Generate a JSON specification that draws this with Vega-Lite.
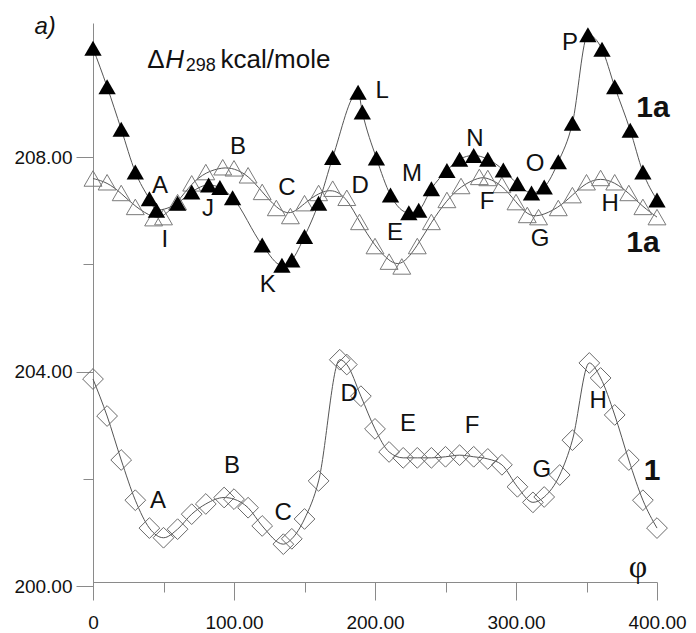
{
  "$schema": "https://vega.github.io/schema/vega-lite/v6.json",
  "autosize": {"type": "none"},
  "padding": {"left": 93, "top": 23, "right": 39, "bottom": 47},
  "width": 564,
  "height": 563,
  "background": "white",
  "config": {
    "view": {"stroke": null},
    "axis": {
      "domainColor": "#8a8a8a",
      "tickColor": "#8a8a8a",
      "labelColor": "#111",
      "labelFont": "Liberation Sans",
      "labelFontSize": 19,
      "grid": false,
      "title": null
    }
  },
  "datasets": {
    "filled": [
      {"x": 0, "y": 210.03}, {"x": 10, "y": 209.31}, {"x": 20, "y": 208.52}, {"x": 30, "y": 207.72},
      {"x": 40, "y": 207.22}, {"x": 45, "y": 207.01}, {"x": 60, "y": 207.14}, {"x": 70, "y": 207.35},
      {"x": 82, "y": 207.48}, {"x": 90, "y": 207.43}, {"x": 99, "y": 207.24}, {"x": 120, "y": 206.36},
      {"x": 134, "y": 205.98}, {"x": 141, "y": 206.08}, {"x": 150, "y": 206.52}, {"x": 160, "y": 207.14},
      {"x": 170, "y": 207.99}, {"x": 188, "y": 209.21}, {"x": 191, "y": 208.84}, {"x": 201, "y": 207.98},
      {"x": 211, "y": 207.29}, {"x": 224, "y": 206.96}, {"x": 231, "y": 207.01}, {"x": 240, "y": 207.41},
      {"x": 251, "y": 207.75}, {"x": 260, "y": 207.96}, {"x": 270, "y": 208.03}, {"x": 280, "y": 207.96},
      {"x": 291, "y": 207.76}, {"x": 301, "y": 207.5}, {"x": 311, "y": 207.33}, {"x": 320, "y": 207.44},
      {"x": 330, "y": 207.91}, {"x": 340, "y": 208.63}, {"x": 351, "y": 210.28}, {"x": 361, "y": 210.01},
      {"x": 370, "y": 209.31}, {"x": 381, "y": 208.5}, {"x": 390, "y": 207.72}, {"x": 400, "y": 207.2}
    ],
    "open": [
      {"x": 0, "y": 207.6}, {"x": 10, "y": 207.53}, {"x": 20, "y": 207.33}, {"x": 30, "y": 207.07},
      {"x": 43, "y": 206.86}, {"x": 50, "y": 206.88}, {"x": 60, "y": 207.16}, {"x": 70, "y": 207.51},
      {"x": 80, "y": 207.72}, {"x": 92, "y": 207.81}, {"x": 100, "y": 207.79}, {"x": 110, "y": 207.66},
      {"x": 120, "y": 207.35}, {"x": 130, "y": 207.05}, {"x": 140, "y": 206.9}, {"x": 150, "y": 207.14},
      {"x": 160, "y": 207.33}, {"x": 170, "y": 207.41}, {"x": 180, "y": 207.24}, {"x": 189, "y": 206.79},
      {"x": 200, "y": 206.34}, {"x": 210, "y": 206.05}, {"x": 219, "y": 205.96}, {"x": 230, "y": 206.34},
      {"x": 240, "y": 206.79}, {"x": 251, "y": 207.2}, {"x": 261, "y": 207.46}, {"x": 274, "y": 207.63},
      {"x": 280, "y": 207.61}, {"x": 290, "y": 207.48}, {"x": 300, "y": 207.16}, {"x": 308, "y": 206.92},
      {"x": 316, "y": 206.88}, {"x": 330, "y": 207.05}, {"x": 340, "y": 207.29}, {"x": 350, "y": 207.53},
      {"x": 360, "y": 207.61}, {"x": 370, "y": 207.53}, {"x": 380, "y": 207.33}, {"x": 390, "y": 207.07},
      {"x": 400, "y": 206.88}
    ],
    "diamond": [
      {"x": 0, "y": 203.86}, {"x": 10, "y": 203.17}, {"x": 20, "y": 202.35}, {"x": 30, "y": 201.6},
      {"x": 40, "y": 201.08}, {"x": 50, "y": 200.9}, {"x": 60, "y": 201.06}, {"x": 70, "y": 201.34},
      {"x": 80, "y": 201.53}, {"x": 93, "y": 201.65}, {"x": 100, "y": 201.62}, {"x": 110, "y": 201.46},
      {"x": 120, "y": 201.12}, {"x": 135, "y": 200.78}, {"x": 141, "y": 200.88}, {"x": 150, "y": 201.25},
      {"x": 160, "y": 201.96}, {"x": 175, "y": 204.22}, {"x": 180, "y": 204.13}, {"x": 190, "y": 203.54},
      {"x": 200, "y": 202.93}, {"x": 210, "y": 202.5}, {"x": 220, "y": 202.39}, {"x": 230, "y": 202.39},
      {"x": 240, "y": 202.39}, {"x": 250, "y": 202.41}, {"x": 260, "y": 202.44}, {"x": 270, "y": 202.41},
      {"x": 280, "y": 202.37}, {"x": 290, "y": 202.26}, {"x": 301, "y": 201.85}, {"x": 312, "y": 201.56},
      {"x": 320, "y": 201.66}, {"x": 331, "y": 202.07}, {"x": 340, "y": 202.72}, {"x": 352, "y": 204.16},
      {"x": 360, "y": 203.88}, {"x": 370, "y": 203.19}, {"x": 380, "y": 202.35}, {"x": 390, "y": 201.6},
      {"x": 400, "y": 201.08}
    ],
    "labels": [
      {"t": "A", "x": 47.5, "y": 207.46}, {"t": "I", "x": 51, "y": 206.46}, {"t": "J", "x": 81.6, "y": 207.03},
      {"t": "B", "x": 102.8, "y": 208.19}, {"t": "C", "x": 137.6, "y": 207.43}, {"t": "K", "x": 124, "y": 205.62},
      {"t": "D", "x": 189.4, "y": 207.46}, {"t": "L", "x": 205, "y": 209.24}, {"t": "M", "x": 226.2, "y": 207.69},
      {"t": "E", "x": 214.2, "y": 206.59}, {"t": "N", "x": 270.9, "y": 208.34}, {"t": "F", "x": 279.4, "y": 207.16},
      {"t": "O", "x": 313.5, "y": 207.87}, {"t": "G", "x": 317, "y": 206.47}, {"t": "P", "x": 338.3, "y": 210.13},
      {"t": "H", "x": 366.7, "y": 207.13},
      {"t": "A", "x": 46.1, "y": 201.59}, {"t": "B", "x": 98.6, "y": 202.24}, {"t": "C", "x": 134.8, "y": 201.36},
      {"t": "D", "x": 181.6, "y": 203.58}, {"t": "E", "x": 223.4, "y": 203.02}, {"t": "F", "x": 268.8, "y": 202.99},
      {"t": "G", "x": 318.4, "y": 202.16}, {"t": "H", "x": 358.2, "y": 203.45}
    ],
    "bold": [
      {"t": "1a", "x": 397.2, "y": 208.92}, {"t": "1a", "x": 390.1, "y": 206.4}, {"t": "1", "x": 396.5, "y": 202.15}
    ],
    "italic": [
      {"t": "a)", "x": -34, "y": 210.43}
    ],
    "titleNormal": [
      {"t": "Δ", "x": 38.5, "y": 209.66}, {"t": "kcal/mole", "x": 90.5, "y": 209.66}
    ],
    "titleItalic": [
      {"t": "H", "x": 51.2, "y": 209.66}
    ],
    "titleSub": [
      {"t": "298", "x": 65.8, "y": 209.6}
    ],
    "phi": [
      {"t": "φ", "x": 386.5, "y": 200.35}
    ]
  },
  "encoding": {
    "x": {
      "field": "x", "type": "quantitative",
      "scale": {"domain": [0, 400], "nice": false, "zero": false},
      "axis": {
        "values": [0, 50, 100, 150, 200, 250, 300, 350, 400],
        "labelExpr": "datum.value == 0 ? '0' : (datum.value % 100 == 0 ? format(datum.value, '.2f') : '')",
        "tickSize": {"condition": {"test": "datum.value % 100 == 0", "value": 18}, "value": 10},
        "labelPadding": 13,
        "offset": -4,
        "labelFlush": false,
        "labelOverlap": false
      }
    },
    "y": {
      "field": "y", "type": "quantitative",
      "scale": {"domain": [200, 210.5], "nice": false, "zero": false},
      "axis": {
        "values": [200, 202, 204, 206, 208],
        "labelExpr": "datum.value % 4 == 0 ? format(datum.value, '.2f') : ''",
        "tickSize": {"condition": {"test": "datum.value % 4 == 0", "value": 17}, "value": 10},
        "labelPadding": 4,
        "labelFlush": false,
        "labelOverlap": false
      }
    }
  },
  "layer": [
    {"data": {"name": "open"}, "mark": {"type": "line", "interpolate": "basis", "color": "#555", "strokeWidth": 1}},
    {"data": {"name": "open"}, "mark": {"type": "point", "shape": "triangle-up", "filled": false, "stroke": "#7a7a7a", "strokeWidth": 1, "size": 320, "opacity": 1}},
    {"data": {"name": "filled"}, "mark": {"type": "line", "interpolate": "monotone", "color": "#555", "strokeWidth": 1}},
    {"data": {"name": "filled"}, "mark": {"type": "point", "shape": "triangle-up", "filled": true, "fill": "#000", "strokeWidth": 0, "size": 300, "opacity": 1}},
    {"data": {"name": "diamond"}, "mark": {"type": "line", "interpolate": "monotone", "color": "#555", "strokeWidth": 1}},
    {"data": {"name": "diamond"}, "mark": {"type": "point", "shape": "diamond", "filled": false, "stroke": "#6a6a6a", "strokeWidth": 1, "size": 430, "opacity": 1}},
    {"data": {"name": "labels"}, "mark": {"type": "text", "font": "Liberation Sans", "fontSize": 24, "color": "#111", "align": "center", "baseline": "middle"}, "encoding": {"text": {"field": "t"}}},
    {"data": {"name": "bold"}, "mark": {"type": "text", "font": "Liberation Sans", "fontSize": 30, "fontWeight": "bold", "color": "#111", "align": "center", "baseline": "middle"}, "encoding": {"text": {"field": "t"}}},
    {"data": {"name": "italic"}, "mark": {"type": "text", "font": "Liberation Sans", "fontSize": 24, "fontStyle": "italic", "color": "#111", "align": "center", "baseline": "middle"}, "encoding": {"text": {"field": "t"}}},
    {"data": {"name": "titleNormal"}, "mark": {"type": "text", "font": "Liberation Sans", "fontSize": 26, "color": "#111", "align": "left", "baseline": "alphabetic"}, "encoding": {"text": {"field": "t"}}},
    {"data": {"name": "titleItalic"}, "mark": {"type": "text", "font": "Liberation Sans", "fontSize": 26, "fontStyle": "italic", "color": "#111", "align": "left", "baseline": "alphabetic"}, "encoding": {"text": {"field": "t"}}},
    {"data": {"name": "titleSub"}, "mark": {"type": "text", "font": "Liberation Sans", "fontSize": 18, "color": "#111", "align": "left", "baseline": "alphabetic"}, "encoding": {"text": {"field": "t"}}},
    {"data": {"name": "phi"}, "mark": {"type": "text", "font": "Liberation Serif", "fontSize": 32, "color": "#111", "align": "center", "baseline": "middle"}, "encoding": {"text": {"field": "t"}}}
  ]
}
